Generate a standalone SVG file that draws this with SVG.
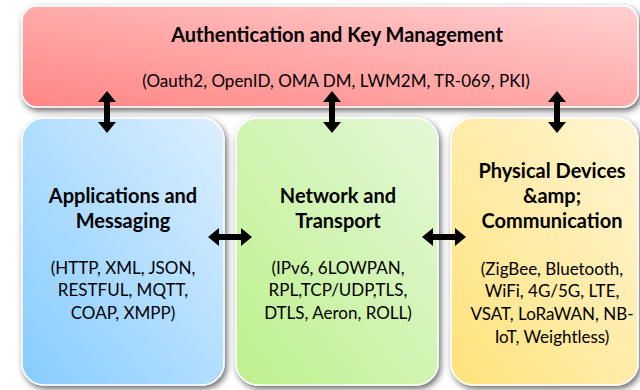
<svg xmlns="http://www.w3.org/2000/svg" width="640" height="390" viewBox="0 0 640 390">
  <defs>
    <linearGradient id="gRed" x1="0" y1="1" x2="1" y2="0">
      <stop offset="0" stop-color="#ff8585"/>
      <stop offset="1" stop-color="#ffd0d0"/>
    </linearGradient>
    <linearGradient id="gBlue" x1="0" y1="1" x2="1" y2="0">
      <stop offset="0" stop-color="#86ccff"/>
      <stop offset="1" stop-color="#dcefff"/>
    </linearGradient>
    <linearGradient id="gGreen" x1="0" y1="1" x2="1" y2="0">
      <stop offset="0" stop-color="#bdf08c"/>
      <stop offset="1" stop-color="#e4f8d8"/>
    </linearGradient>
    <linearGradient id="gYellow" x1="0" y1="1" x2="1" y2="0">
      <stop offset="0" stop-color="#ffe27a"/>
      <stop offset="1" stop-color="#fff6d6"/>
    </linearGradient>
    <filter id="shadow" x="-10%" y="-10%" width="125%" height="125%">
      <feDropShadow dx="2" dy="3" stdDeviation="3" flood-color="#000" flood-opacity="0.6"/>
    </filter>
    <path id="vArrow" d="M0,0 L9,11 L3,11 L3,31 L9,31 L0,42 L-9,31 L-3,31 L-3,11 L-9,11 Z"/>
    <path id="hArrow" d="M0,0 L11,-9 L11,-3 L33,-3 L33,-9 L44,0 L33,9 L33,3 L11,3 L11,9 Z"/>
  </defs>
  <style>
    .box { stroke: #ffffff; stroke-width: 1.5; filter: url(#shadow); }
    .t { font-family: Lato, "Open Sans", "Liberation Sans", sans-serif; fill: #000; text-anchor: middle; }
    .h { font-weight: bold; font-size: 20px; }
    .b { font-size: 17px; }
    .arrow { fill: #000; }
  </style>

  <g id="auth">
    <rect class="box" x="22" y="6" width="616" height="101" rx="15" ry="15" fill="url(#gRed)"/>
    <text class="t h" x="337" y="42">Authentication and Key Management</text>
    <text class="t b" x="336" y="87">(Oauth2, OpenID, OMA DM, LWM2M, TR-069, PKI)</text>
  </g>

  <g id="apps">
    <rect class="box" x="22" y="118" width="202" height="267" rx="22" ry="22" fill="url(#gBlue)"/>
    <text class="t h" x="123" y="203">Applications and</text>
    <text class="t h" x="123" y="228">Messaging</text>
    <text class="t b" x="123" y="274">(HTTP, XML, JSON,</text>
    <text class="t b" x="123" y="296">RESTFUL, MQTT,</text>
    <text class="t b" x="123" y="319">COAP, XMPP)</text>
  </g>

  <g id="network">
    <rect class="box" x="236" y="118" width="202" height="267" rx="22" ry="22" fill="url(#gGreen)"/>
    <text class="t h" x="338" y="203">Network and</text>
    <text class="t h" x="338" y="228">Transport</text>
    <text class="t b" x="338" y="274">(IPv6, 6LOWPAN,</text>
    <text class="t b" x="338" y="296">RPL,TCP/UDP,TLS,</text>
    <text class="t b" x="338" y="319">DTLS, Aeron, ROLL)</text>
  </g>

  <g id="physical">
    <rect class="box" x="451" y="118" width="187" height="267" rx="22" ry="22" fill="url(#gYellow)"/>
    <text class="t h" x="552" y="178">Physical Devices</text>
    <text class="t h" x="552" y="203">&amp;amp;</text>
    <text class="t h" x="552" y="228">Communication</text>
    <text class="t b" x="552" y="275">(ZigBee, Bluetooth,</text>
    <text class="t b" x="552" y="297">WiFi, 4G/5G, LTE,</text>
    <text class="t b" x="552" y="320">VSAT, LoRaWAN, NB-</text>
    <text class="t b" x="552" y="343">IoT, Weightless)</text>
  </g>

  <g id="connectors" class="arrow">
    <use href="#vArrow" x="107" y="91"/>
    <use href="#vArrow" x="332" y="91"/>
    <use href="#vArrow" x="557" y="91"/>
    <use href="#hArrow" x="208" y="237"/>
    <use href="#hArrow" x="422" y="237"/>
  </g>
</svg>
